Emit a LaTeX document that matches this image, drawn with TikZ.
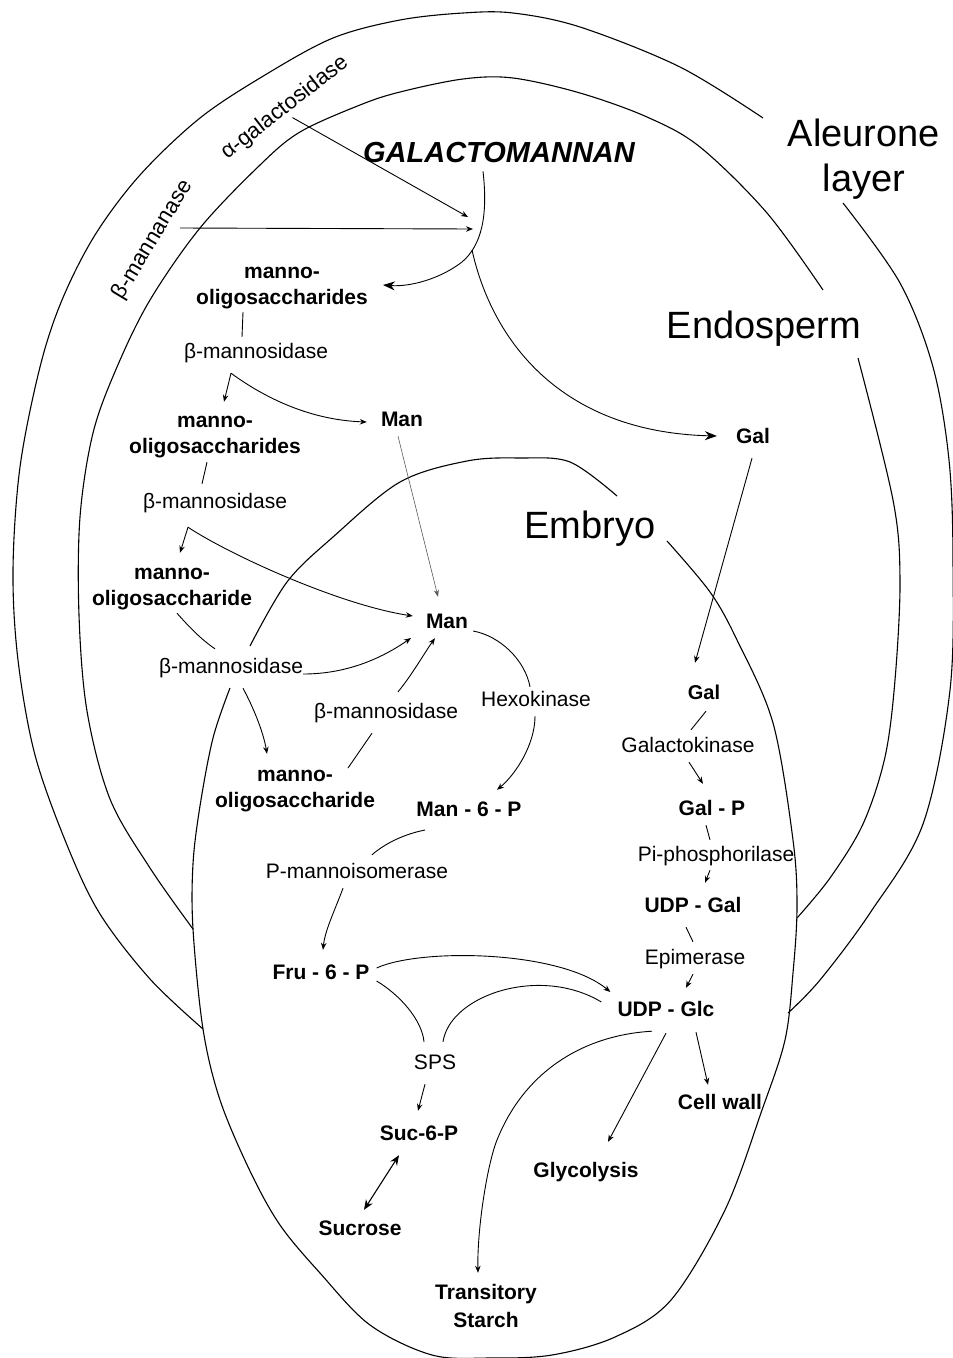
\documentclass[tikz,border=0pt]{standalone}
\usepackage{fontspec}
\newfontfamily\lsans{Liberation Sans}
\usetikzlibrary{arrows.meta,calc}
\newcommand\lstrut{\rule[-4.5pt]{0pt}{20pt}}
\begin{document}
\begin{tikzpicture}[x=1pt,y=-1pt,
  lab/.style={font=\lsans\fontsize{21}{26}\selectfont, inner sep=2pt, text height=15.5pt, text depth=4.5pt},
  met/.style={font=\lsans\bfseries\fontsize{21}{26}\selectfont, inner sep=2pt, text height=15.5pt, text depth=4.5pt},
  met2/.style={font=\lsans\bfseries\fontsize{21}{26}\selectfont, inner sep=2pt, align=center},
  big/.style={font=\lsans\fontsize{38}{45}\selectfont, inner sep=2pt, align=center},
  ttl/.style={font=\lsans\bfseries\itshape\fontsize{29}{34}\selectfont, inner sep=2pt, text depth=0pt},
  bnd/.style={line width=1.1pt, black},
  con/.style={line width=0.9pt, black},
  arr/.style={con, -{Stealth[length=7pt,width=5.5pt]}},
  arrthin/.style={line width=0.6pt, black!65, -{Stealth[length=7pt,width=5pt]}},
  arrbig/.style={con, -{Stealth[length=12pt,width=9pt]}},
  darr/.style={line width=1.1pt, {Stealth[length=10pt,width=8pt]}-{Stealth[length=10pt,width=8pt]}}
]
\useasboundingbox (0,0) rectangle (953,1358);
\fill[white] (0,0) rectangle (953,1358);

% ---- boundaries ----
% outer (aleurone) boundary
\draw[bnd] plot[smooth,tension=0.55] coordinates {(203,1029) (150,979) (100,914) (67,845) (35,755) (18,660) (13,570) (20,467) (40,367) (62,300) (95,235) (140,175) (200,118) (265,75) (333,38) (400,20) (463,13) (513,13) (580,27) (680,67) (763,118)};
\draw[bnd] plot[smooth,tension=0.55] coordinates {(843,203) (900,283) (933,367) (949,460) (953,560) (950,690) (923,824) (870,913) (820,980) (788,1013)};
% inner (endosperm) boundary
\draw[bnd] plot[smooth,tension=0.55] coordinates {(193,929) (150,868) (110,799) (87,711) (79,615) (80,517) (93,433) (117,367) (150,300) (200,228) (260,165) (300,132) (360,105) (400,92) (463,79) (513,78) (580,93) (647,117) (700,147) (767,213) (823,290)};
\draw[bnd] plot[smooth,tension=0.55] coordinates {(858,358) (893,500) (900,580) (895,680) (885,757) (863,824) (830,878) (797,918)};
% embryo
\draw[bnd] plot[smooth,tension=0.55] coordinates {(250,646) (287,582) (333,537) (400,482) (467,461) (520,458) (570,462) (617,496)};
\draw[bnd] plot[smooth,tension=0.55] coordinates {(667,541) (710,592) (737,640) (773,723) (793,840) (797,907) (793,973) (785,1040) (762,1110) (725,1210) (671,1300) (615,1337) (552,1355) (490,1358) (432,1355) (370,1325) (320,1273) (280,1225) (250,1171) (220,1100) (203,1029) (193,929) (193,864) (200,806) (213,738) (230,688)};

% ---- region labels ----
\node[ttl] (gm) at (499,152) {GALACTOMANNAN};
\node[big] (alr) at (864,159) {Aleurone\\layer};
\node[big] (endo) at (764,329) {Endosperm};
\node[big] (emb) at (590,529) {Embryo};

% ---- enzyme labels ----
\node[lab, rotate=38, font=\lsans\fontsize{22}{26}\selectfont] (agal) at (285,108) {α-galactosidase};
\node[lab, rotate=59, font=\lsans\fontsize{22}{26}\selectfont] (bman) at (153,240) {β-mannanase};
\node[lab] (bm1) at (256,353) {β-mannosidase};
\node[lab] (bm2) at (215,503) {β-mannosidase};
\node[lab] (bm3) at (231,668) {β-mannosidase};
\node[lab] (bm4) at (386,713) {β-mannosidase};
\node[lab] (hex) at (536,701) {Hexokinase};
\node[lab] (pmi) at (357,873) {P-mannoisomerase};
\node[lab] (sps) at (435,1064) {SPS};
\node[lab] (epi) at (695,959) {Epimerase};
\node[lab] (piph) at (716,856) {Pi-phosphorilase};
\node[lab] (galk) at (688,747) {Galactokinase};

% ---- metabolites ----
\node[met2] (mo1) at (282,286) {\lstrut manno-\\\lstrut oligosaccharides};
\node[met2] (mo2) at (215,435) {\lstrut manno-\\\lstrut oligosaccharides};
\node[met2] (mo3) at (172,587) {\lstrut manno-\\\lstrut oligosaccharide};
\node[met2] (mo4) at (295,789) {\lstrut manno-\\\lstrut oligosaccharide};
\node[met] (man1) at (402,421) {Man};
\node[met] (man2) at (447,623) {Man};
\node[met] (m6p) at (469,811) {Man - 6 - P};
\node[met] (fru) at (321,974) {Fru - 6 - P};
\node[met] (suc6p) at (419,1135) {Suc-6-P};
\node[met] (sucrose) at (360,1230) {Sucrose};
\node[met2] (starch) at (486,1308) {\lstrut Transitory\\[2pt]\lstrut Starch};
\node[met] (glyc) at (586,1172) {Glycolysis};
\node[met] (cellwall) at (720,1104) {Cell wall};
\node[met] (udpglc) at (666,1011) {UDP - Glc};
\node[met] (udpgal) at (693,907) {UDP - Gal};
\node[met] (galp) at (712,810) {Gal - P};
\node[met, font=\lsans\bfseries\fontsize{20}{24}\selectfont] (gal2) at (704,694) {Gal};
\node[met] (gal1) at (753,438) {Gal};

% ---- connectors ----
\coordinate (tgA) at (468,217);
\coordinate (tgB) at (473,229);
\coordinate (gmB) at (472,250);
\draw[arr] (agal.south) -- (tgA);
\draw[arr] ($(bman.center)+(27,-12)$) -- (tgB);
\draw[arrbig] ($(gm.south)+(-16,7)$) .. controls (488,215) and (482,245) .. (462,262) .. controls (440,279) and (410,287) .. ($(mo1.east)+(13,-1)$);
\draw[arrbig] (gmB) .. controls (492,340) and (560,432) .. ($(gal1.west)+(-17,-2)$);

\draw[con] ($(mo1.south)+(-39,1)$) -- ($(bm1.north)+(-14,-4)$);
\coordinate (h1) at ($(bm1.south)+(-25,8)$);
\draw[arr] (h1) -- ($(mo2.north)+(9,-8)$);
\draw[arr] (h1) .. controls (265,398) and (310,420) .. ($(man1.west)+(-12,1)$);
\draw[arrthin] ($(man1.south)+(-4,3)$) -- ($(man2.north)+(-9,-14)$);

\draw[con] ($(mo2.south)+(-8,2)$) -- ($(bm2.north)+(-13,-7)$);
\coordinate (h2) at ($(bm2.south)+(-27,12)$);
\draw[arr] (h2) -- ($(mo3.north)+(8,-9)$);
\draw[arr] (h2) .. controls (230,555) and (340,605) .. ($(man2.west)+(-11,-7)$);

\draw[con] ($(mo3.south)+(5,1)$) .. controls (190,628) and (202,640) .. ($(bm3.north)+(-16,-7)$);
\draw[arr] ($(bm3.east)+(-2,6)$) .. controls (350,674) and (385,656) .. ($(man2)+(-36,15)$);
\draw[arr] ($(bm3.south)+(12,8)$) .. controls (252,705) and (263,730) .. ($(mo4.north)+(-28,-10)$);
\draw[con] ($(mo4)+(53,-21)$) -- ($(bm4.south)+(-14,8)$);
\draw[arr] ($(bm4.north)+(12,-9)$) .. controls (412,675) and (425,652) .. ($(man2.south)+(-12,3)$);

\draw[con] ($(man2.east)+(3,8)$) .. controls (500,636) and (525,660) .. ($(hex.north)+(-6,-2)$);
\draw[arr] ($(hex.south)+(-1,3)$) .. controls (535,745) and (515,775) .. ($(m6p.north)+(28,-9)$);
\draw[con] ($(m6p)+(-44,19)$) .. controls (400,835) and (382,846) .. ($(pmi.north)+(15,-6)$);
\draw[arr] ($(pmi.south)+(-14,3)$) .. controls (335,910) and (325,930) .. ($(fru.north)+(2,-12)$);

\draw[arr] ($(fru.east)+(5,-6)$) .. controls (420,948) and (560,950) .. ($(udpglc.west)+(-5,-19)$);
\draw[con] ($(fru.east)+(5,7)$) .. controls (400,995) and (422,1020) .. ($(sps.north)+(-11,-10)$);
\draw[con] ($(sps.north)+(8,-10)$) .. controls (450,995) and (540,965) .. ($(udpglc.west)+(-14,-9)$);
\draw[arr] ($(sps.south)+(-10,8)$) -- ($(suc6p.north)+(-1,-12)$);
\draw[darr] ($(suc6p.south)+(-20,8)$) -- ($(sucrose.north)+(4,-8)$);

\draw[arr] ($(udpglc.south)+(-14,8)$) .. controls (585,1035) and (525,1070) .. (497,1140) .. controls (487,1165) and (477,1230) .. ($(starch.north)+(-8,-9)$);
\draw[arr] ($(udpglc.south)+(0,10)$) -- ($(glyc.north)+(22,-18)$);
\draw[arr] ($(udpglc.south)+(30,9)$) -- ($(cellwall.north)+(-12,-7)$);

\draw[arr] ($(epi.south)+(-2,3)$) -- ($(udpglc.north)+(20,-11)$);
\draw[con] ($(udpgal.south)+(-7,8)$) -- ($(epi.north)+(-2,-5)$);
\draw[arr] ($(piph.south)+(-6,2)$) -- ($(udpgal.north)+(12,-12)$);
\draw[con] ($(galp.south)+(-6,3)$) -- ($(piph.north)+(-6,-4)$);
\draw[arr] ($(galk.south)+(1,3)$) -- ($(galp.north)+(-9,-14)$);
\draw[con] ($(gal2.south)+(2,5)$) -- ($(galk.north)+(3,-5)$);
\draw[arr] ($(gal1.south)+(-1,8)$) -- ($(gal2.north)+(-9,-19)$);
\end{tikzpicture}
\end{document}
